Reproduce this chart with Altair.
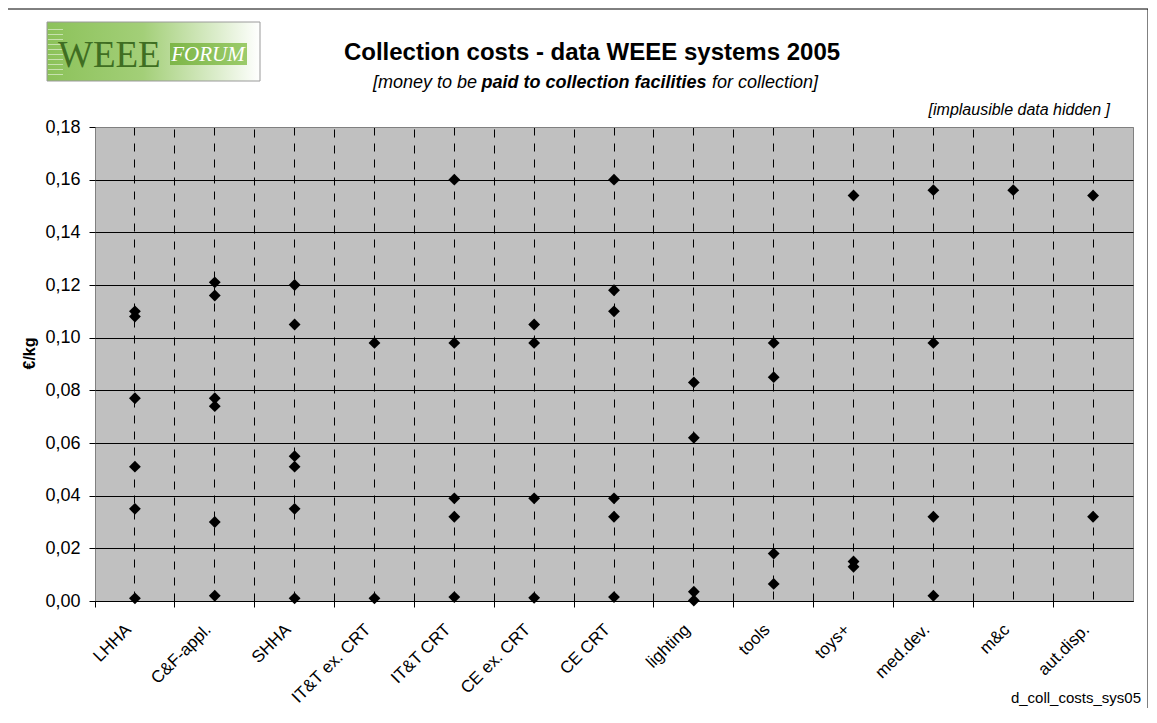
import altair as alt
import pandas as pd

# ---------------- data ----------------
categories = ["LHHA", "C&F-appl.", "SHHA", "IT&T ex. CRT", "IT&T CRT", "CE ex. CRT",
              "CE CRT", "lighting", "tools", "toys+", "med.dev.", "m&c", "aut.disp."]

lhha = [0.110, 0.108, 0.077, 0.051, 0.035, 0.001]
cf_appl = [0.121, 0.116, 0.077, 0.074, 0.030, 0.002]
shha = [0.120, 0.105, 0.055, 0.051, 0.035, 0.001]
itt_ex_crt = [0.098, 0.001]
itt_crt = [0.160, 0.098, 0.039, 0.032, 0.0015]
ce_ex_crt = [0.105, 0.098, 0.039, 0.0012]
ce_crt = [0.160, 0.118, 0.110, 0.039, 0.032, 0.0015]
lighting = [0.083, 0.062, 0.0035, 0.0002]
tools = [0.098, 0.085, 0.018, 0.0065]
toys = [0.154, 0.015, 0.013]
med_dev = [0.156, 0.098, 0.032, 0.002]
m_c = [0.156]
aut_disp = [0.154, 0.032]

series = [lhha, cf_appl, shha, itt_ex_crt, itt_crt, ce_ex_crt, ce_crt,
          lighting, tools, toys, med_dev, m_c, aut_disp]

y_ticks = [0.0, 0.02, 0.04, 0.06, 0.08, 0.10, 0.12, 0.14, 0.16, 0.18]

title_text = "Collection costs - data WEEE systems 2005"
sub_a = "[money to be"
sub_b = "paid to collection facilities"
sub_c = "for collection]"
note_text = "[implausible data hidden ]"
code_text = "d_coll_costs_sys05"

rows = [{"category": c, "cost": v} for c, vals in zip(categories, series) for v in vals]
df = pd.DataFrame(rows)

# ---------------- layout ----------------
W, H = 1038, 474
FONT = "Liberation Sans"
SERIF = "Liberation Serif"

xscale = alt.Scale(type="band", domain=categories, paddingInner=0, paddingOuter=0)
yscale = alt.Scale(domain=[0, 0.18], nice=False, zero=True)

one = pd.DataFrame({"k": [0]})


def txt(text, x, y, size, weight="normal", style="normal", align="left",
        color="black", font=FONT):
    d = pd.DataFrame({"t": [text]})
    return alt.Chart(d).mark_text(
        font=font, fontSize=size, fontWeight=weight, fontStyle=style,
        align=align, baseline="alphabetic", color=color
    ).encode(text="t:N", x=alt.value(x), y=alt.value(y))


def box(x, x2, y, y2, **kw):
    return alt.Chart(one).mark_rect(**kw).encode(
        x=alt.value(x), x2=alt.value(x2), y=alt.value(y), y2=alt.value(y2))


# outer frame (bottom edge falls below the page)
frame = box(-88, 1053, -118, 600, fillOpacity=0, stroke="black", strokeWidth=1)

# logo
logo_grad = alt.LinearGradient(
    gradient="linear", x1=0, x2=1, y1=0, y2=0,
    stops=[alt.GradientStop(color="#8cc25a", offset=0),
           alt.GradientStop(color="#a3cf78", offset=0.45),
           alt.GradientStop(color="#dcedcc", offset=0.8),
           alt.GradientStop(color="#ffffff", offset=1)])
logo_bg = box(-48, 165, -105, -46, fill=logo_grad, stroke="#9a9a9a", strokeWidth=1)
stripes = [box(-47, -32, -98 + 5 * i, -97 + 5 * i, fill="white", opacity=0.5)
           for i in range(10)]
band_grad = alt.LinearGradient(
    gradient="linear", x1=0, x2=1, y1=0, y2=0,
    stops=[alt.GradientStop(color="#7db648", offset=0),
           alt.GradientStop(color="#9bcb6a", offset=1)])
logo_band = box(75, 152, -84, -62, fill=band_grad)
logo_weee = txt("WEEE", -37, -60, 37, color="#3f6e22", font=SERIF)
logo_forum = txt("FORUM", 113, -66, 21, style="italic", align="center",
                 color="white", font=SERIF)

title = txt(title_text, 497, -67, 24, weight="bold", align="center")
subA = txt(sub_a, 382, -39, 18, style="italic", align="right")
subB = txt(sub_b, 499, -39, 18, weight="bold", style="italic", align="center")
subC = txt(sub_c, 617, -39, 18, style="italic", align="left")
note = txt(note_text, 1015, -12, 16, style="italic", align="right")
code = txt(code_text, 1046, 576, 15, align="right")

yaxis = alt.Axis(
    values=y_ticks,
    labelExpr="replace(format(datum.value, '.2f'), '.', ',')",
    tickSize=6, tickColor="black", labelPadding=9, domain=False,
    grid=True, gridWidth=1,
    gridColor={"condition": {"test": "datum.value >= 0.179", "value": "#808080"},
               "value": "black"},
    labelFontSize=18, labelColor="black",
    title="€/kg", titleFontWeight="bold", titleFontSize=16, titleColor="black",
    titleAngle=270, titleX=-66, titleY=226, titleBaseline="middle", titleAlign="center",
)

bounds = alt.Chart(df).mark_point(opacity=0).encode(
    x=alt.X("category:N", scale=xscale,
            axis=alt.Axis(orient="bottom", bandPosition=0, labels=False, ticks=True,
                          tickSize=6, tickColor="black", domain=False,
                          grid=True, gridDash=[8, 8], gridColor="black",
                          gridOpacity={"condition": {"test": "datum.index == 0", "value": 0},
                                       "value": 1},
                          title=None)),
)

points = alt.Chart(df).mark_point(
    shape="diamond", filled=True, size=140, color="black", opacity=1
).encode(
    x=alt.X("category:N", scale=xscale,
            axis=alt.Axis(orient="bottom", bandPosition=0.5, labelAngle=315,
                          labelAlign="right", labelBaseline="top", labelPadding=20,
                          labelOffset=-12, ticks=False, domain=True, domainColor="black",
                          grid=True, gridDash=[8, 8], gridColor="black", title=None,
                          labelFontSize=17, labelColor="black")),
    y=alt.Y("cost:Q", scale=yscale, axis=yaxis),
)

chart = alt.layer(
    frame, logo_bg, *stripes, logo_band, logo_weee, logo_forum, title, subA, subB, subC,
    note, code, bounds, points
).resolve_axis(x="independent").properties(
    width=W, height=H,
    autosize=alt.AutoSizeParams(type="none"),
    padding={"left": 87, "top": 119, "right": 15, "bottom": 107},
).configure(
    font=FONT,
).configure_view(
    fill="#c0c0c0", stroke="#808080", strokeWidth=1,
)

chart.save("out.html", embed_options={"renderer": "svg", "actions": False})
